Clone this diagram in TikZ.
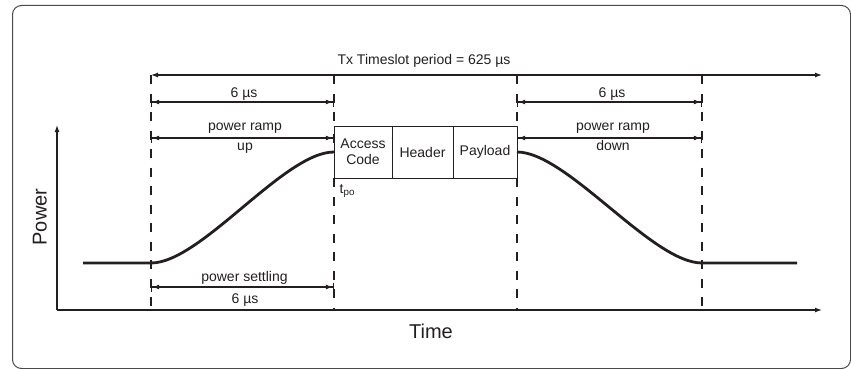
\documentclass[tikz,border=0pt]{standalone}
\usepackage{fontspec}
\setmainfont{Liberation Sans}
\usetikzlibrary{arrows.meta}
\definecolor{ink}{HTML}{231F20}
\definecolor{framec}{HTML}{4A4A4A}
\begin{document}
\begin{tikzpicture}[x=1pt,y=-1pt,line join=round,
  lbl/.style={font=\fontsize{14}{16}\selectfont, text=ink, inner sep=0pt},
  axlbl/.style={font=\fontsize{20}{24}\selectfont, text=ink, inner sep=0pt},
  guide/.style={draw=ink, line width=1.2pt, dash pattern=on 9pt off 9.5pt},
  dimarrow/.style={draw=ink, line width=1.2pt, {Bar[width=9pt]Latex[length=7pt,width=5pt]}-{Latex[length=7pt,width=5pt]Bar[width=9pt]}},
  periodarrow/.style={draw=ink, line width=1.2pt, {Latex[length=7pt,width=5pt]}-{Latex[length=7pt,width=5pt]}},
  axisline/.style={draw=ink, line width=1.3pt, -{Latex[length=7pt,width=5pt]}},
  seg/.style={draw=ink, line width=1pt, minimum height=52pt, inner sep=0pt, outer sep=0pt,
    align=center, anchor=north west, font=\fontsize{14}{16}\selectfont, text=ink},
  powercurve/.style={draw=ink, line width=2.8pt, line cap=butt}]
\useasboundingbox (0,0) rectangle (851,369);
\clip (0,0) rectangle (851,369);
% frame
\draw[framec, line width=1pt, rounded corners=9pt] (12.5,5.5) rectangle (850.5,368.5);

% packet boxes
\node[seg, minimum width=58pt] (ac) at (334,126) {Access\\Code};
\node[seg, minimum width=61pt] (hd) at (ac.north east) {Header};
\node[seg, minimum width=64pt] (pl) at (hd.north east) {Payload};

% guide coordinates
\coordinate (a1) at (151,75);  \coordinate (a2) at (151,308);
\coordinate (b1) at (334,75);  \coordinate (b2) at (334,308);
\coordinate (c1) at (517,75);  \coordinate (c2) at (517,308);
\coordinate (d1) at (702,75);  \coordinate (d2) at (702,308);
\coordinate (pend) at (822,75);

% dashed guides
\draw[guide] (a1) -- (a2);
\draw[guide] (b1) -- (ac.north west);
\draw[guide] (ac.south west) -- (b2);
\draw[guide] (c1) -- (pl.north east);
\draw[guide] (pl.south east) -- (c2);
\draw[guide] (d1) -- (d2);

% period arrow
\draw[periodarrow] (a1) -- (pend);
\node[lbl, anchor=base] (period) at (424,65) {Tx Timeslot period = 625 µs};

% dimension arrows
\coordinate (l6a) at (151,102); \coordinate (l6b) at (334,102);
\coordinate (r6a) at (517,102); \coordinate (r6b) at (702,102);
\coordinate (lra) at (151,138); \coordinate (lrb) at (334,138);
\coordinate (rra) at (517,138); \coordinate (rrb) at (702,138);
\coordinate (lsa) at (151,287); \coordinate (lsb) at (334,287);
\draw[dimarrow] (l6a) -- (l6b);
\draw[dimarrow] (r6a) -- (r6b);
\draw[dimarrow] (lra) -- (lrb);
\draw[dimarrow] (rra) -- (rrb);
\draw[dimarrow] (lsa) -- (lsb);

\node[lbl, anchor=base] (l6) at (244,97) {6 µs};
\node[lbl, anchor=base] (r6) at (612,97) {6 µs};
\node[lbl, anchor=base] (lr1) at (245,130) {power ramp};
\node[lbl, anchor=base] (lr2) at (245,150) {up};
\node[lbl, anchor=base] (rr1) at (613,130) {power ramp};
\node[lbl, anchor=base] (rr2) at (613,150) {down};
\node[lbl, anchor=base] (ls1) at (244.5,281.5) {power settling};
\node[lbl, anchor=base] (ls2) at (245,303) {6 µs};
\node[lbl, anchor=base west] (tpo) at (339.5,193) {t\textsubscript{po}};

% power curve
\coordinate (s0) at (83,263); \coordinate (s1) at (151,263);
\coordinate (e1) at (702,263); \coordinate (e0) at (797,263);
\draw[powercurve] (s0) -- (s1) .. controls (201,263) and (284,152) .. (ac.west);
\draw[powercurve] (pl.east) .. controls (567,152) and (652,263) .. (e1) -- (e0);

% axes
\coordinate (O) at (57,310);
\coordinate (ytop) at (57,125);
\coordinate (xend) at (822,310);
\draw[axisline] (O) -- (ytop);
\draw[axisline] (O) -- (xend);
\node[axlbl, anchor=base, rotate=90] (power) at (46.5,217) {Power};
\node[axlbl, anchor=base] (time) at (431,338) {Time};
\end{tikzpicture}
\end{document}
